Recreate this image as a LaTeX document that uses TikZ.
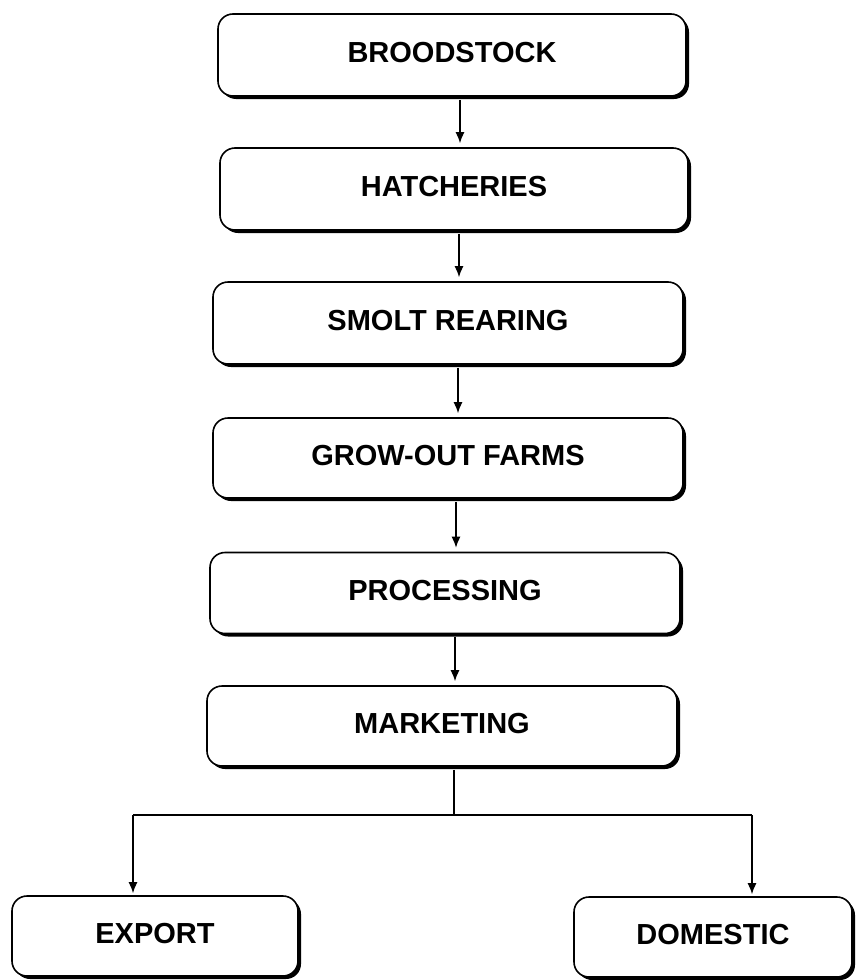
\documentclass[tikz,border=0pt]{standalone}
\usepackage{fontspec}
\setmainfont{Liberation Sans}
\usetikzlibrary{shadows,arrows.meta}
\begin{document}
\begin{tikzpicture}[x=1pt,y=-1pt,
  stage/.style={draw=black, line width=1.6pt, fill=white, rounded corners=15pt,
    drop shadow={shadow xshift=3pt, shadow yshift=-3pt, fill=black, opacity=1},
    font=\bfseries\fontsize{29}{34}\selectfont, text depth=6pt, inner sep=0pt},
  arr/.style={line width=1.4pt, -{Latex[length=11pt,width=9pt]}, shorten >=4pt},
  ln/.style={line width=1.4pt}]
\useasboundingbox[fill=white] (0,0) rectangle (857,980);
\node[stage, minimum width=468pt, minimum height=82pt] (brood) at (452,55) {BROODSTOCK};
\node[stage, minimum width=468pt, minimum height=82pt] (hatch) at (454,189) {HATCHERIES};
\node[stage, minimum width=470pt, minimum height=82pt] (smolt) at (448,323) {SMOLT REARING};
\node[stage, minimum width=470pt, minimum height=80pt] (grow) at (448,458) {GROW-OUT FARMS};
\node[stage, minimum width=470pt, minimum height=81pt] (proc) at (445,593) {PROCESSING};
\node[stage, minimum width=470pt, minimum height=80pt] (mark) at (442,726) {MARKETING};
\node[stage, minimum width=286pt, minimum height=80pt] (export) at (155,936) {EXPORT};
\node[stage, minimum width=278pt, minimum height=80pt] (dom) at (713,937) {DOMESTIC};
\draw[arr] (460,0 |- brood.south) ++(0,3) -- (460,0 |- hatch.north);
\draw[arr] (459,0 |- hatch.south) ++(0,3) -- (459,0 |- smolt.north);
\draw[arr] (458,0 |- smolt.south) ++(0,3) -- (458,0 |- grow.north);
\draw[arr] (456,0 |- grow.south) ++(0,3) -- (456,0 |- proc.north);
\draw[arr] (455,0 |- proc.south) ++(0,3) -- (455,0 |- mark.north);
\coordinate (split) at (454,815);
\coordinate (el) at (133,815);
\coordinate (dr) at (752,815);
\draw[ln] (split |- mark.south) ++(0,3) -- (split);
\draw[ln] (el) -- (dr);
\draw[arr, shorten >=2pt] (el) -- (el |- export.north);
\draw[arr, shorten >=2pt] (dr) -- (dr |- dom.north);
\end{tikzpicture}
\end{document}
